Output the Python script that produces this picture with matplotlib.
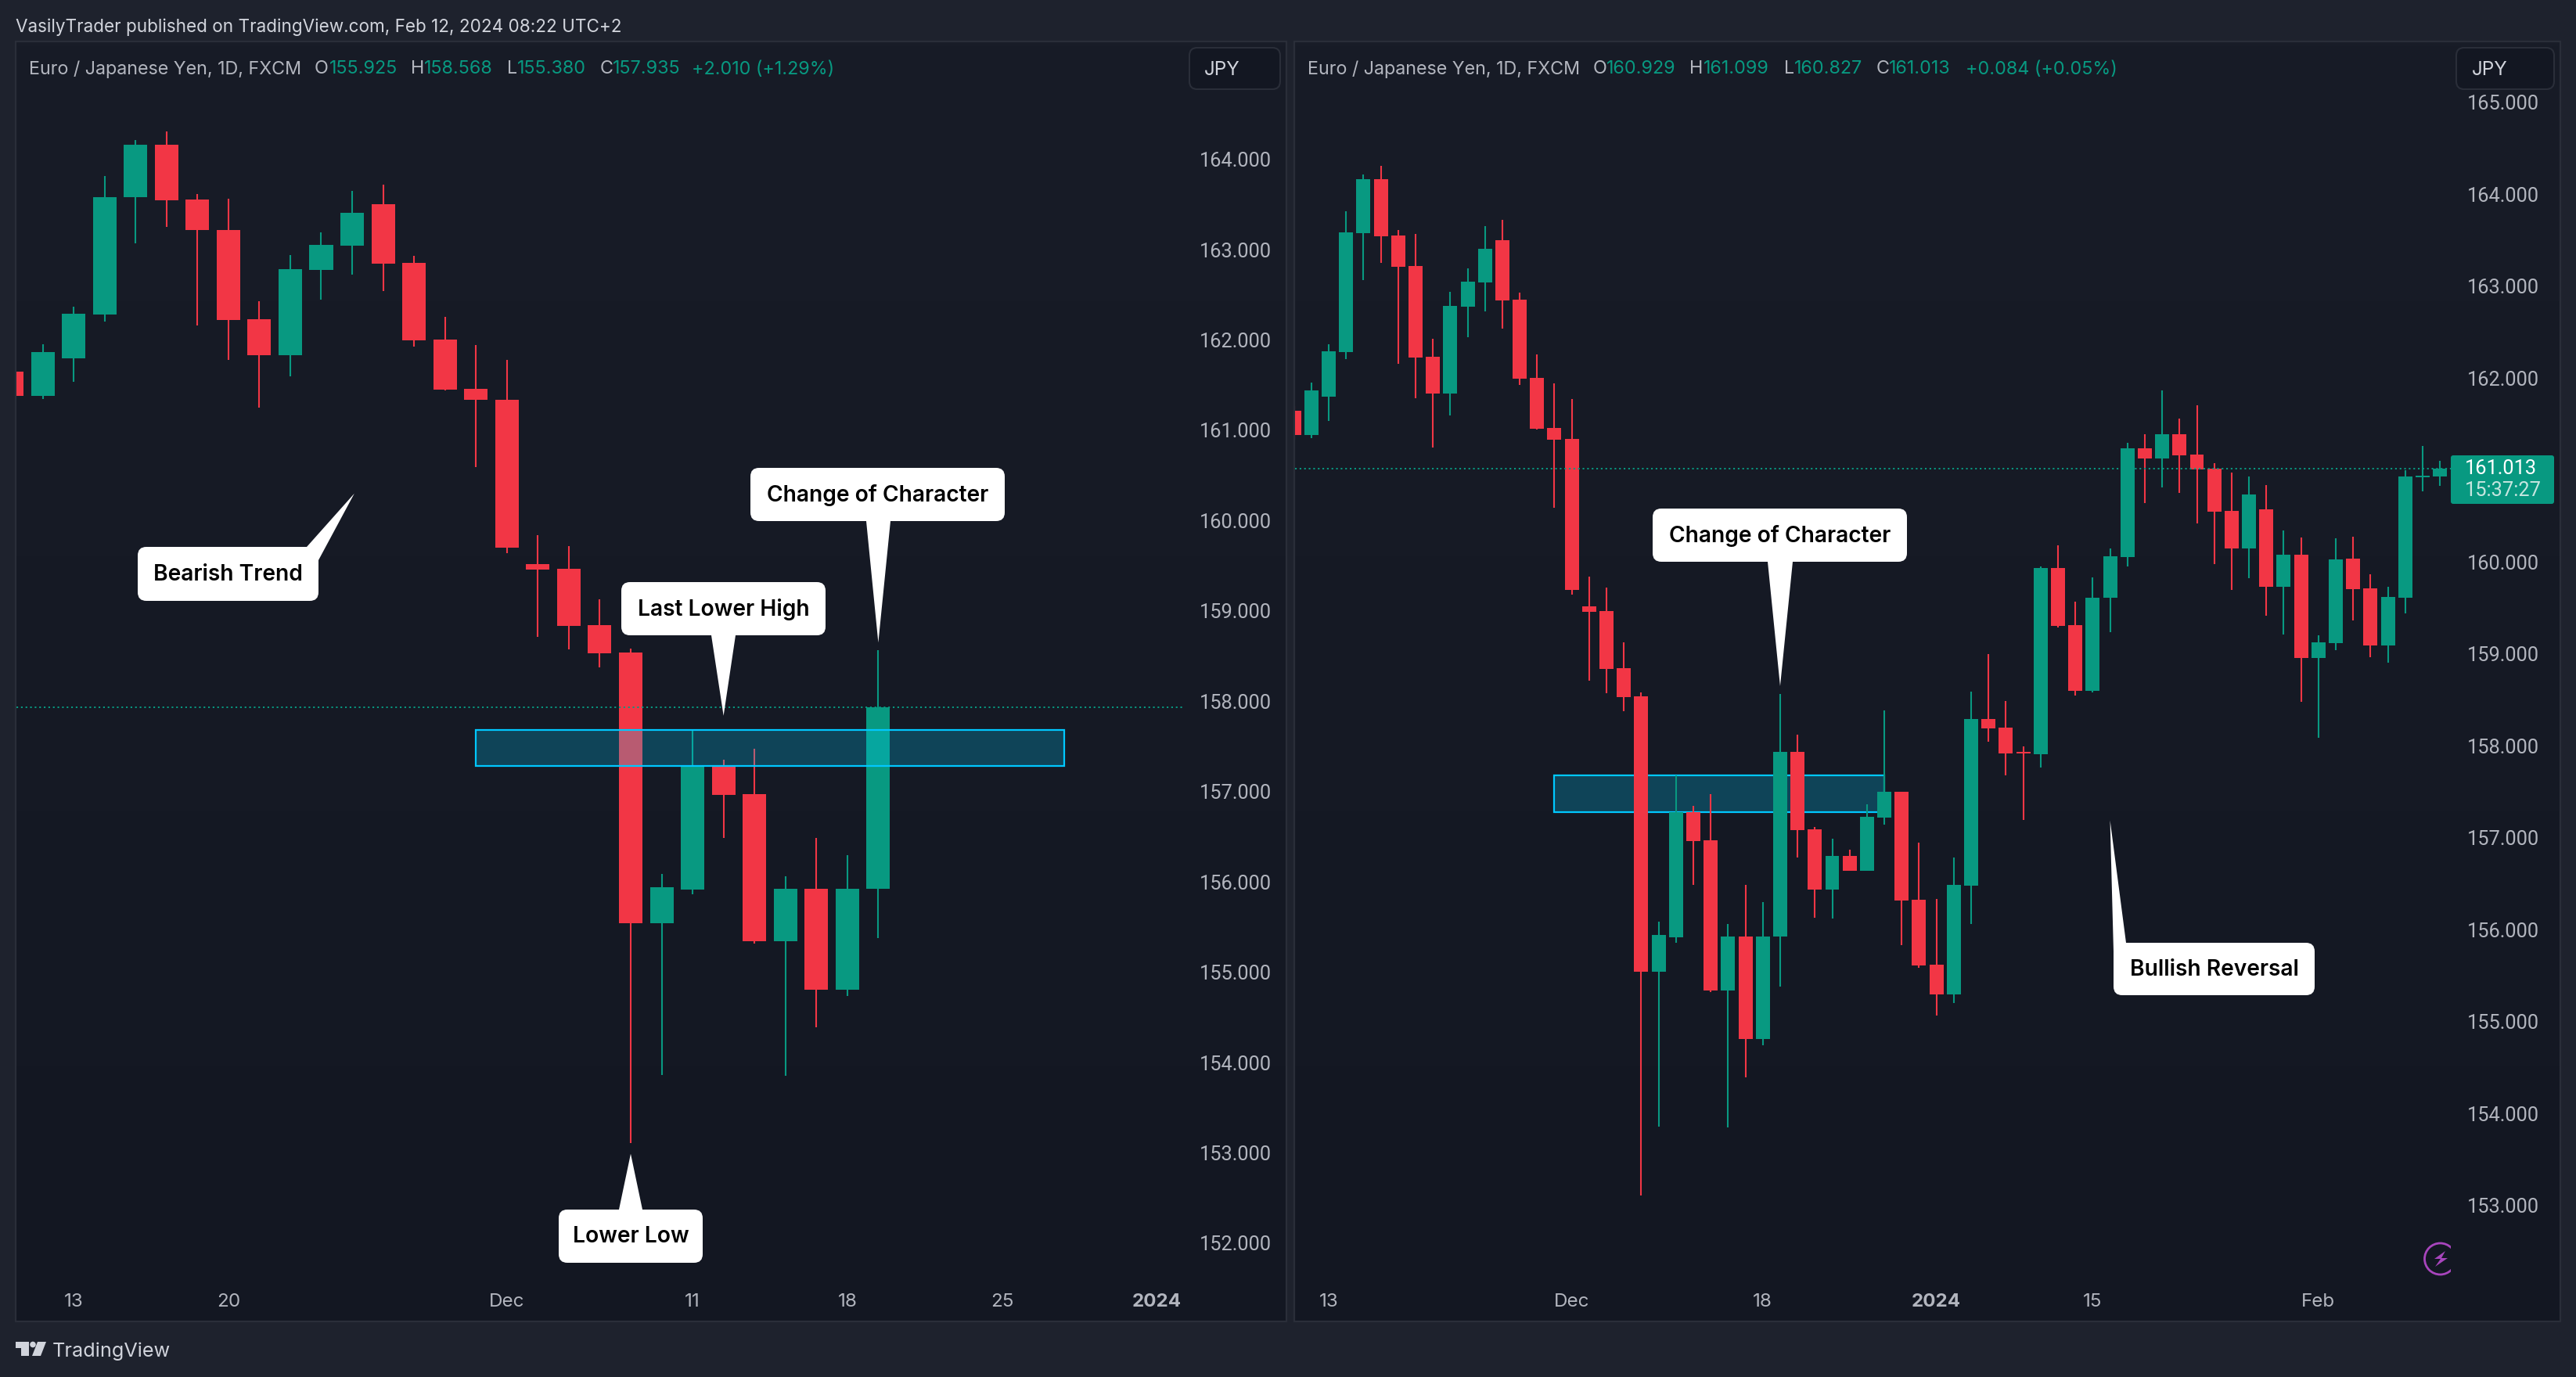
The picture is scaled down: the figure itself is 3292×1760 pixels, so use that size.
import matplotlib

matplotlib.use("Agg")
import matplotlib.pyplot as plt
import numpy as np
from matplotlib.patches import Circle, FancyBboxPatch, Polygon, Rectangle

W, H = 3292, 1760

plt.rcParams["font.family"] = ["Inter", "DejaVu Sans"]

# Daily EURJPY bars, first one is Nov 9 2023 (index -2), last one Feb 12 2024
BAR_INDEX = np.arange(-2, 65)
OPENS = [
    161.646, 161.382, 161.799, 162.285, 163.577, 164.164, 163.553, 163.220, 162.233, 161.834,
    162.779, 163.043, 163.501, 162.855, 162.004, 161.459, 161.337, 159.516, 159.468, 158.846,
    158.540, 155.543, 155.918, 157.279, 156.974, 155.341, 155.925, 154.810, 155.925, 157.936,
    157.092, 156.435, 156.804, 156.640, 157.220, 157.502, 156.328, 155.619, 155.293, 156.480,
    158.290, 158.200, 157.936, 157.908, 159.933, 159.311, 158.599, 159.607, 160.054, 161.237,
    161.126, 161.390, 161.168, 161.015, 160.556, 160.147, 160.573, 159.730, 160.079, 158.956,
    159.118, 160.037, 159.713, 159.092, 159.611, 160.925, 160.929,
]
HIGHS = [
    161.700, 161.952, 162.369, 163.817, 164.217, 164.310, 163.612, 163.567, 162.428, 162.938,
    163.195, 163.654, 163.723, 162.931, 162.258, 161.945, 161.775, 159.839, 159.721, 159.127,
    158.582, 156.088, 157.679, 157.349, 157.474, 156.064, 156.487, 156.300, 158.568, 158.120,
    157.116, 156.991, 156.870, 157.363, 158.384, 157.502, 156.946, 156.335, 156.786, 158.589,
    158.999, 158.488, 157.995, 159.950, 160.180, 159.568, 159.832, 160.148, 161.296, 161.390,
    161.867, 161.560, 161.705, 161.075, 160.973, 160.930, 160.837, 160.343, 160.266, 159.203,
    160.258, 160.275, 159.867, 159.730, 160.998, 161.262, 161.099,
]
LOWS = [
    161.330, 161.344, 161.538, 162.205, 163.067, 163.254, 162.160, 161.782, 161.247, 161.594,
    162.442, 162.726, 162.539, 161.927, 161.440, 160.591, 159.644, 158.710, 158.572, 158.377,
    153.111, 153.860, 155.862, 156.487, 155.320, 153.850, 154.390, 154.740, 155.380, 156.786,
    156.130, 156.123, 156.640, 156.640, 157.144, 155.831, 155.588, 155.070, 155.200, 156.064,
    158.044, 157.679, 157.193, 157.766, 159.290, 158.544, 158.582, 159.238, 159.952, 160.641,
    160.811, 160.751, 160.420, 159.977, 159.696, 159.824, 159.415, 159.211, 158.479, 158.090,
    159.041, 159.364, 158.964, 158.905, 159.440, 160.768, 160.827,
]
CLOSES = [
    161.382, 161.865, 162.292, 163.584, 164.164, 163.543, 163.213, 162.223, 161.834, 162.785,
    163.049, 163.407, 162.844, 161.994, 161.448, 161.334, 159.697, 159.457, 158.836, 158.530,
    155.543, 155.942, 157.279, 156.963, 155.341, 155.925, 154.810, 155.925, 157.935, 157.085,
    156.435, 156.804, 156.640, 157.227, 157.502, 156.317, 155.612, 155.293, 156.487, 158.290,
    158.189, 157.919, 157.919, 159.933, 159.304, 158.599, 159.610, 160.062, 161.237, 161.126,
    161.390, 161.160, 161.010, 160.547, 160.147, 160.734, 159.730, 160.079, 158.956, 159.126,
    160.028, 159.705, 159.092, 159.620, 160.930, 160.936, 161.013,
]

LEFT_LAST_BAR = 26
LEFT_TICK_BARS = [0, 5, 14, 20, 25, 30, 35]
LEFT_TICK_LABELS = ["13", "20", "Dec", "11", "18", "25", "2024"]
LEFT_PRICES = [152, 153, 154, 155, 156, 157, 158, 159, 160, 161, 162, 163, 164]
RIGHT_TICK_BARS = [0, 14, 25, 35, 44, 57]
RIGHT_TICK_LABELS = ["13", "Dec", "18", "2024", "15", "Feb"]
RIGHT_PRICES = [153, 154, 155, 156, 157, 158, 159, 160, 161, 162, 163, 164, 165]

ZONE_BARS = (13, 32)
ZONE_PRICES = (157.28, 157.68)

LEFT_LEGEND = [
    (37, "Euro / Japanese Yen, 1D, FXCM", "#b2b5be"),
    (402, "O", "#b2b5be"), (421, "155.925", "#089981"),
    (525, "H", "#b2b5be"), (542, "158.568", "#089981"),
    (648, "L", "#b2b5be"), (661, "155.380", "#089981"),
    (767, "C", "#b2b5be"), (783, "157.935", "#089981"),
    (884, "+2.010 (+1.29%)", "#089981"),
]
RIGHT_LEGEND = [
    (1671, "Euro / Japanese Yen, 1D, FXCM", "#b2b5be"),
    (2036, "O", "#b2b5be"), (2053, "160.929", "#089981"),
    (2159, "H", "#b2b5be"), (2177, "161.099", "#089981"),
    (2280, "L", "#b2b5be"), (2293, "160.827", "#089981"),
    (2398, "C", "#b2b5be"), (2414, "161.013", "#089981"),
    (2512, "+0.084 (+0.05%)", "#089981"),
]

# text, box (x0, y0, x1, y1 px), tail base (px), tail tip (bar, price)
LEFT_CALLOUTS = [
    ("Bearish Trend", (176, 699, 407, 768), [(392, 699), (407, 716)], (9.07, 160.30)),
    ("Change of Character", (959, 598, 1284, 666), [(1107, 666), (1138, 666)], (26, 158.65)),
    ("Last Lower High", (794, 744, 1055, 812), [(909, 812), (940, 812)], (21, 157.84)),
    ("Lower Low", (714, 1546, 898, 1614), [(791, 1546), (821, 1546)], (18, 152.99)),
]
RIGHT_CALLOUTS = [
    ("Change of Character", (2112, 650, 2437, 718), [(2259, 718), (2291, 718)], (26, 158.65)),
    ("Bullish Reversal", (2701, 1205, 2958, 1272), [(2701, 1216), (2717, 1205)], (45, 157.19)),
]

GREEN = "#089981"
RED = "#F23645"
BG = "#1e222d"
BORDER = "#2a2e39"
TEXT = "#b2b5be"


def _px_axes(fig, x0, y0, x1, y1):
    """Eixo posicionado em pixels da imagem (y para baixo)."""
    return fig.add_axes([x0 / W, 1 - y1 / H, (x1 - x0) / W, (y1 - y0) / H])


def _panel(bg_ax, x0, y0, x1, y1):
    grad = np.linspace(0, 1, 256)[:, None, None]
    top = np.array([0x18, 0x1c, 0x27]) / 255
    bottom = np.array([0x13, 0x17, 0x22]) / 255
    bg_ax.imshow(top + (bottom - top) * grad, extent=(x0, x1, y1, y0), aspect="auto", zorder=1)
    bg_ax.add_patch(Rectangle((x0, y0), x1 - x0, y1 - y0, fill=False, ec=BORDER, lw=1.6, zorder=2))


def _candles(ax, idx, opens, highs, lows, closes, width, zorder=3):
    cores = [GREEN if c >= o else RED for o, c in zip(opens, closes)]
    ax.vlines(idx, lows, highs, colors=cores, linewidth=1.5, zorder=zorder)
    ax.bar(
        idx,
        np.array(closes) - np.array(opens),
        bottom=opens,
        width=width,
        color=cores,
        linewidth=0,
        zorder=zorder,
    )


def _estilizar_eixo(ax, xlim, ylim, ticks, labels, prices, pad_y):
    ax.patch.set_visible(False)
    for sp in ax.spines.values():
        sp.set_visible(False)
    ax.set_xlim(*xlim)
    ax.set_ylim(*ylim)
    ax.yaxis.tick_right()
    ax.set_yticks(prices)
    ax.set_yticklabels(
        [f"{p:.3f}" for p in prices], fontsize=18.3, color=TEXT, ha="right", family="Roboto"
    )
    ax.set_xticks(ticks)
    ax.set_xticklabels(labels, fontsize=17.4, color=TEXT)
    ax.tick_params(axis="y", length=0, pad=pad_y)
    ax.tick_params(axis="x", length=0, pad=9.5)
    for lab in ax.get_xticklabels():
        if lab.get_text() == "2024":
            lab.set_fontweight("bold")


def _zona(ax, zorder):
    ax.add_patch(
        Rectangle(
            (ZONE_BARS[0], ZONE_PRICES[0]),
            ZONE_BARS[1] - ZONE_BARS[0],
            ZONE_PRICES[1] - ZONE_PRICES[0],
            fc=(0.0, 0.82, 1.0, 0.24),
            ec="#00c8ff",
            lw=1.6,
            zorder=zorder,
        )
    )


def _legenda(ov, itens):
    for x, txt, cor in itens:
        ov.text(x, 94.5, txt, fontsize=16.8, color=cor, va="baseline", ha="left", zorder=5)


def _chip(ov, x0, x1, tx):
    ov.add_patch(
        FancyBboxPatch(
            (x0, 61), x1 - x0, 53,
            boxstyle="round,pad=0,rounding_size=10",
            fc="#131722", ec=BORDER, lw=1.5, zorder=5,
        )
    )
    ov.text(tx, 95.5, "JPY", fontsize=17.5, color="#d1d4dc", va="baseline", ha="left", zorder=6)


def _callouts(ov, ax, itens):
    for txt, (x0, y0, x1, y1), base, tip in itens:
        px = ax.transData.transform(tip)
        ov.add_patch(Polygon([base[0], base[1], (px[0], H - px[1])], fc="white", lw=0, zorder=7))
        ov.add_patch(
            FancyBboxPatch(
                (x0, y0), x1 - x0, y1 - y0,
                boxstyle="round,pad=0,rounding_size=11",
                fc="white", ec="none", zorder=7,
            )
        )
        ov.text(
            (x0 + x1) / 2, (y0 + y1) / 2 + 1, txt,
            fontsize=20.3, color="#000000", fontweight="semibold",
            ha="center", va="center", zorder=8,
        )


fig = plt.figure(figsize=(W / 100, H / 100), dpi=100, facecolor=BG)

bg_ax = _px_axes(fig, 0, 0, W, H)
bg_ax.set_zorder(0)
_panel(bg_ax, 20, 53, 1644, 1689)
_panel(bg_ax, 1654, 53, 3272, 1689)
bg_ax.set_xlim(0, W)
bg_ax.set_ylim(H, 0)
bg_ax.axis("off")

# painel esquerdo: replay ate 19 de dezembro, zona por cima dos candles
n = LEFT_LAST_BAR + 3
ax_l = _px_axes(fig, 21, 54, 1511, 1640)
ax_l.set_zorder(1)
_candles(ax_l, BAR_INDEX[:n], OPENS[:n], HIGHS[:n], LOWS[:n], CLOSES[:n], 0.76)
_zona(ax_l, 4)
ax_l.axhline(CLOSES[n - 1], color=GREEN, linewidth=1.4, linestyle=(0, (1.1, 1.9)), zorder=5)
_estilizar_eixo(
    ax_l,
    ((21 - 94.1) / 39.55, (1511 - 94.1) / 39.55),
    (164 - (1640 - 203.6) / 115.45, 164 + (203.6 - 54) / 115.45),
    LEFT_TICK_BARS, LEFT_TICK_LABELS, LEFT_PRICES, 82,
)

# painel direito: serie completa, zona por baixo dos candles
ax_r = _px_axes(fig, 1655, 54, 3132, 1640)
ax_r.set_zorder(1)
_zona(ax_r, 2)
_candles(ax_r, BAR_INDEX, OPENS, HIGHS, LOWS, CLOSES, 0.81)
ax_r.axhline(CLOSES[-1], color=GREEN, linewidth=1.4, linestyle=(0, (1.1, 1.9)), zorder=5)
_estilizar_eixo(
    ax_r,
    ((1655 - 1698) / 22.19, (3132 - 1698) / 22.19),
    (161 - (1640 - 600.8) / 117.5, 161 + (600.8 - 54) / 117.5),
    RIGHT_TICK_BARS, RIGHT_TICK_LABELS, RIGHT_PRICES, 81.4,
)

ov = _px_axes(fig, 0, 0, W, H)
ov.set_zorder(2)
ov.set_xlim(0, W)
ov.set_ylim(H, 0)
ov.axis("off")

ov.text(20, 41, "VasilyTrader published on TradingView.com, Feb 12, 2024 08:22 UTC+2",
        fontsize=16.2, color="#d1d4dc", va="baseline", ha="left")
_legenda(ov, LEFT_LEGEND)
_legenda(ov, RIGHT_LEGEND)
_chip(ov, 1520, 1636, 1539)
_chip(ov, 3139, 3264, 3159)
_callouts(ov, ax_l, LEFT_CALLOUTS)
_callouts(ov, ax_r, RIGHT_CALLOUTS)

# etiqueta do ultimo preco
ov.add_patch(
    FancyBboxPatch((3132, 582), 132, 62, boxstyle="round,pad=0,rounding_size=3", fc=GREEN, ec="none", zorder=5)
)
ov.text(3150, 599, f"{CLOSES[-1]:.3f}", fontsize=18.3, color="white", va="center", ha="left",
        family="Roboto", zorder=6)
ov.text(3150, 627, "15:37:27", fontsize=18.3, color="#c6e6e0", va="center", ha="left",
        family="Roboto", zorder=6)

# icone roxo cortado na borda do grafico
clip = Rectangle((3090, 1580), 42, 60, transform=ov.transData)
circ = Circle((3118.5, 1609), 20, fill=False, ec="#a845bd", lw=2.0, zorder=5)
ov.add_patch(circ)
circ.set_clip_path(clip)
ov.add_patch(
    Polygon(
        [(3125, 1599), (3111, 1609), (3119, 1609), (3112, 1619), (3128, 1608), (3120, 1608)],
        fc="#a845bd", lw=0, zorder=5,
    )
)

# logo e rodape
ov.add_patch(
    Polygon([(20, 1715), (37, 1715), (37, 1733), (27, 1733), (27, 1723), (20, 1723)], fc="#d1d4dc", lw=0)
)
ov.add_patch(Circle((42, 1718.5), 3.8, fc="#d1d4dc", lw=0))
ov.add_patch(Polygon([(48, 1715), (59, 1715), (52, 1733), (41, 1733)], fc="#d1d4dc", lw=0))
ov.text(67, 1734, "TradingView", fontsize=18.2, color="#d1d4dc", va="baseline", ha="left")

fig.savefig("out.png", dpi=100, facecolor=BG)
